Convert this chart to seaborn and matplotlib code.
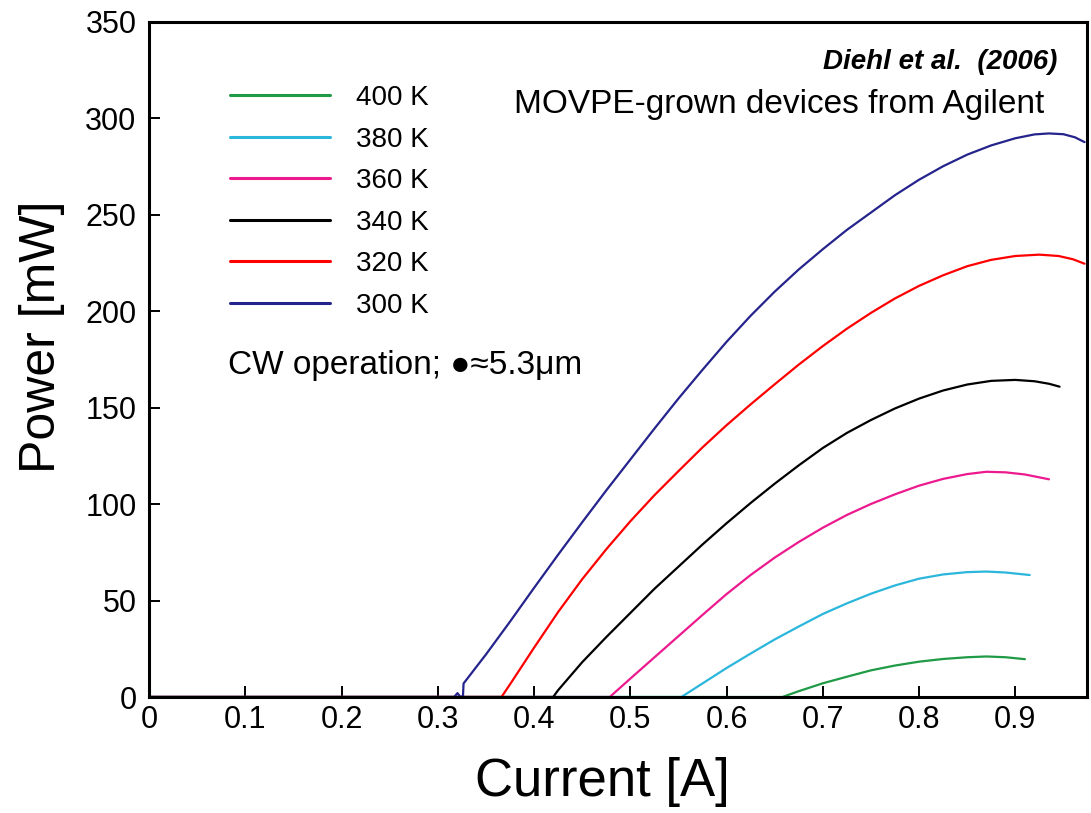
import matplotlib
matplotlib.use("Agg")
import matplotlib.pyplot as plt
import seaborn as sns
import pandas as pd

# Light-current curves of a quantum cascade laser at several heat-sink temperatures
temperatures = ["400 K", "380 K", "360 K", "340 K", "320 K", "300 K"]
colors = ["#1f9a45", "#2bb6dc", "#ec1a8e", "#000000", "#ff0000", "#25248c"]

current_400 = [0.0, 0.658, 0.675, 0.70, 0.725, 0.75, 0.775, 0.80, 0.825, 0.85, 0.87, 0.89, 0.91]
power_400 = [0.0, 0.0, 3.0, 7.1, 10.5, 13.8, 16.3, 18.3, 19.7, 20.6, 21.0, 20.6, 19.6]

current_380 = [0.0, 0.5531, 0.575, 0.60, 0.625, 0.65, 0.675, 0.70, 0.725, 0.75, 0.775,
               0.80, 0.825, 0.85, 0.87, 0.89, 0.915]
power_380 = [0.0, 0.0, 7.0, 15.0, 22.5, 29.8, 36.5, 43.0, 48.5, 53.5, 57.8,
             61.3, 63.5, 64.7, 65.0, 64.5, 63.2]

current_360 = [0.0, 0.4787, 0.50, 0.525, 0.55, 0.575, 0.60, 0.625, 0.65, 0.675, 0.70,
               0.725, 0.75, 0.775, 0.80, 0.825, 0.85, 0.87, 0.89, 0.91, 0.935]
power_360 = [0.0, 0.0, 9.5, 20.5, 31.5, 42.5, 53.3, 63.2, 72.2, 80.3, 87.7,
             94.3, 100.0, 105.0, 109.5, 113.0, 115.5, 116.7, 116.4, 115.3, 112.8]

current_340 = [0.0, 0.4199, 0.425, 0.45, 0.475, 0.50, 0.525, 0.55, 0.575, 0.60, 0.625,
               0.65, 0.675, 0.70, 0.725, 0.75, 0.775, 0.80, 0.825, 0.85, 0.875,
               0.90, 0.92, 0.935, 0.946]
power_340 = [0.0, 0.0, 3.5, 18.0, 31.0, 43.5, 56.0, 67.5, 79.0, 90.0, 100.5,
             110.5, 120.0, 129.0, 136.8, 143.5, 149.5, 154.6, 158.8, 161.9, 163.8,
             164.3, 163.6, 162.3, 160.8]

current_320 = [0.0, 0.3662, 0.375, 0.40, 0.425, 0.45, 0.475, 0.50, 0.525, 0.55, 0.575,
               0.60, 0.625, 0.65, 0.675, 0.70, 0.725, 0.75, 0.775, 0.80, 0.825,
               0.85, 0.875, 0.90, 0.925, 0.945, 0.96, 0.972]
power_320 = [0.0, 0.0, 6.5, 25.5, 44.0, 61.0, 76.5, 91.0, 104.5, 117.0, 129.3,
             140.8, 151.6, 162.0, 172.2, 181.8, 190.8, 199.0, 206.5, 213.0, 218.5,
             223.2, 226.5, 228.5, 229.2, 228.5, 226.8, 224.5]

current_300 = [0.0, 0.317, 0.3205, 0.3235, 0.3262, 0.3268, 0.35, 0.375, 0.40, 0.425,
               0.45, 0.475, 0.50, 0.525, 0.55, 0.575, 0.60, 0.625, 0.65, 0.675,
               0.70, 0.725, 0.75, 0.775, 0.80, 0.825, 0.85, 0.875, 0.90, 0.92,
               0.935, 0.95, 0.962, 0.972]
power_300 = [0.0, 0.0, 2.0, 0.0, 0.5, 7.0, 22.0, 39.0, 56.5, 73.7,
             90.5, 107.0, 123.0, 139.0, 154.6, 169.5, 184.0, 197.5, 210.0, 221.5,
             232.0, 242.0, 251.0, 260.0, 268.0, 275.0, 281.0, 285.8, 289.5, 291.5,
             292.0, 291.6, 290.0, 287.5]

series = {
    "400 K": (current_400, power_400),
    "380 K": (current_380, power_380),
    "360 K": (current_360, power_360),
    "340 K": (current_340, power_340),
    "320 K": (current_320, power_320),
    "300 K": (current_300, power_300),
}

rows = []
for name in temperatures:
    xs, ys = series[name]
    for x, y in zip(xs, ys):
        rows.append({"Current": x, "Power": y, "T": name})
df = pd.DataFrame(rows)

x_ticks = [0, 0.1, 0.2, 0.3, 0.4, 0.5, 0.6, 0.7, 0.8, 0.9]
x_tick_labels = ["0", "0.1", "0.2", "0.3", "0.4", "0.5", "0.6", "0.7", "0.8", "0.9"]
y_ticks = [0, 50, 100, 150, 200, 250, 300, 350]
y_tick_labels = ["0", "50", "100", "150", "200", "250", "300", "350"]

sns.set_theme(style="white")
plt.rcParams["font.family"] = ["Liberation Sans", "DejaVu Sans"]
plt.rcParams["text.color"] = "black"

W, H = 1091, 813
fig = plt.figure(figsize=(W / 100, H / 100), dpi=100)
L, R, T, B = 149, 1086.5, 21.5, 697
ax = fig.add_axes([L / W, 1 - B / H, (R - L) / W, (B - T) / H])


def fx(px):
    return px / W


def fy(py):
    return 1 - py / H


sns.lineplot(data=df, x="Current", y="Power", hue="T", hue_order=temperatures,
             palette=colors, estimator=None, sort=False, units="T",
             linewidth=1.6, ax=ax, legend=True)

ax.set_xlim(0, 0.974)
ax.set_ylim(0, 350)
ax.set_xticks(x_ticks)
ax.set_xticklabels(x_tick_labels)
ax.set_yticks(y_ticks)
ax.set_yticklabels(y_tick_labels)
ax.tick_params(axis="both", direction="in", length=8, width=1.4, color="black",
               labelsize=22, labelcolor="black")
ax.tick_params(axis="x", pad=6, bottom=True)
ax.tick_params(axis="y", pad=9, left=True)
for side in ["left", "right", "top", "bottom"]:
    ax.spines[side].set_visible(True)
    ax.spines[side].set_color("black")
    ax.spines[side].set_linewidth(2.2)

ax.set_xlabel("Current [A]", fontsize=38, color="black")
ax.set_ylabel("Power [mW]", fontsize=36, color="black")
ax.xaxis.set_label_coords((602 - L) / (R - L), (B - 782) / (B - T))
ax.xaxis.label.set_va("center")
ax.yaxis.set_label_coords((42 - L) / (R - L), (B - 337) / (B - T))
ax.yaxis.label.set_va("center")

handles, labels = ax.get_legend_handles_labels()
leg = ax.legend(handles, labels, loc="upper left",
                bbox_to_anchor=(fx(230), fy(85)), bbox_transform=fig.transFigure,
                frameon=False, fontsize=20, handlelength=3.6, handletextpad=0.95,
                labelspacing=0.56, borderpad=0, borderaxespad=0)
for line in leg.get_lines():
    line.set_linewidth(2.2)
for txt in leg.get_texts():
    txt.set_color("black")

fig.text(fx(1057), fy(62), "Diehl et al.  (2006)", ha="right", va="center",
         fontsize=20, fontweight="bold", fontstyle="italic", color="black")
fig.text(fx(514), fy(105), "MOVPE-grown devices from Agilent", ha="left",
         va="center", fontsize=24, color="black")
fig.text(fx(228), fy(365), "CW operation; \u25cf\u22485.3\u03bcm", ha="left",
         va="center", fontsize=24, color="black")

fig.savefig("out.png", dpi=100, facecolor="white")
